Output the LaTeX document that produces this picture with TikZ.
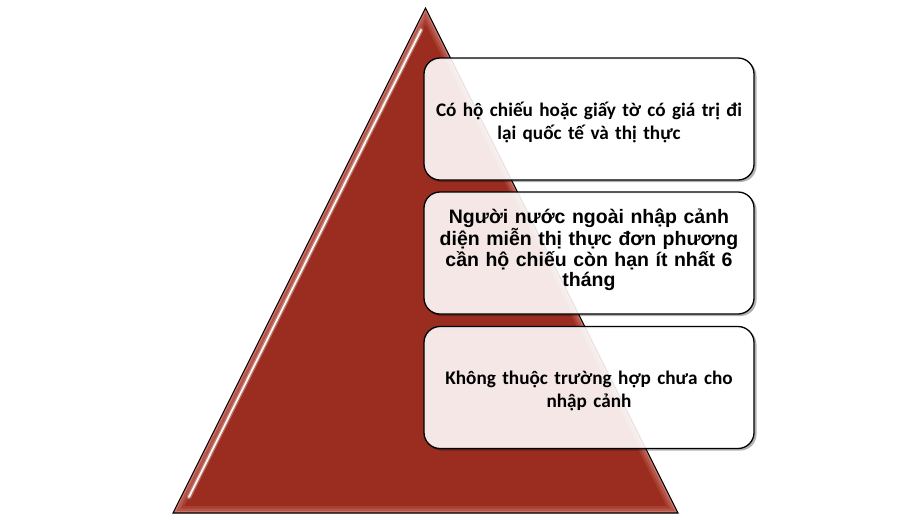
\documentclass[tikz,border=0pt]{standalone}
\usepackage{fontspec}
\newfontfamily\calfont{Carlito}
\newfontfamily\arifont{Liberation Sans}
\definecolor{trired}{RGB}{155,45,32}
\definecolor{trilight}{RGB}{225,150,140}
\tikzset{
  infobox/.style={draw=black, line width=1.3pt, rounded corners=16pt,
    fill=white, fill opacity=0.89, draw opacity=1,
    minimum width=330pt, minimum height=122pt, inner sep=0pt},
  boxshadow/.style={fill=black, opacity=0.3, even odd rule},
  boxtext/.style={align=center, text width=320pt, inner sep=0pt, text opacity=1},
}
\begin{document}
\begin{tikzpicture}[x=1pt,y=-1pt]
\useasboundingbox (0,0) rectangle (907,520);
% triangle
\coordinate (apex) at (425.5,8);
\coordinate (bl) at (173,513);
\coordinate (br) at (678,513);
\fill[trired] (apex) -- (br) -- (bl) -- cycle;
\begin{scope}
  \clip (apex) -- (br) -- (bl) -- cycle;
  \draw[trilight, line width=14pt, opacity=0.18, line join=miter] (apex) -- (br) -- (bl) -- cycle;
  \draw[trilight, line width=9pt, opacity=0.25, line join=miter] (apex) -- (br) -- (bl) -- cycle;
  \draw[trilight, line width=4pt, opacity=0.45, line join=miter] (apex) -- (br) -- (bl) -- cycle;
  \draw[white, line width=4.5pt, opacity=0.3, line cap=round] (421,30) -- (189,497);
  \draw[white, line width=1.8pt, opacity=0.95, line cap=round] (421,30) -- (189,497);
\end{scope}
\draw[black, line width=1.1pt, line join=miter] (apex) -- (br) -- (bl) -- cycle;
% boxes
\foreach \y in {119,253,387.5}{
  \fill[boxshadow, rounded corners=16pt] (425.5,\y-59) rectangle (756.5,\y+63)
     (424,\y-61) rectangle (754,\y+61);
}
\node[infobox] (b1) at (589,119) {};
\node[infobox] (b2) at (589,253) {};
\node[infobox] (b3) at (589,387.5) {};
\node[boxtext, font=\calfont\bfseries\fontsize{19.2}{23}\selectfont] (t1) at (589,122)
  {Có hộ chiếu hoặc giấy tờ có giá trị đi\\lại quốc tế và thị thực};
\node[boxtext, font=\arifont\bfseries\fontsize{19.5}{20.5}\selectfont] (t2) at (589,250)
  {Người nước ngoài nhập cảnh\\diện miễn thị thực đơn phương\\cần hộ chiếu còn hạn ít nhất 6\\tháng};
\node[boxtext, font=\calfont\bfseries\fontsize{19.2}{23}\selectfont] (t3) at (589,391)
  {Không thuộc trường hợp chưa cho\\nhập cảnh};
\end{tikzpicture}
\end{document}
